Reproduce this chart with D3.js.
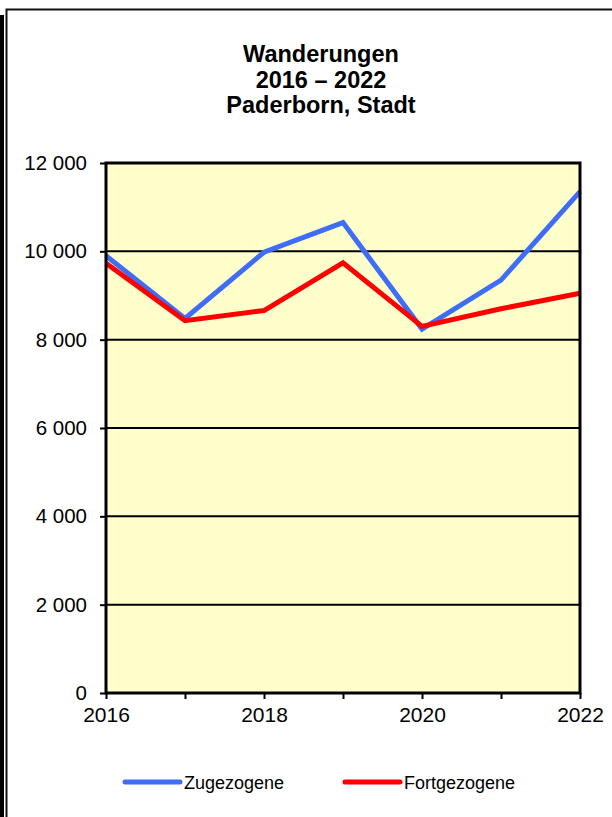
<!DOCTYPE html>
<html>
<head>
<meta charset="utf-8">
<script src="https://cdn.jsdelivr.net/npm/d3@7"></script>
<style>
  html, body { margin: 0; padding: 0; background: #fff; }
  svg { display: block; font-family: "Liberation Sans", Arial, sans-serif; }
</style>
</head>
<body>
<div id="chart"></div>
<script>
// data
var years = [2016, 2017, 2018, 2019, 2020, 2021, 2022];
var zugezogene = [9900, 8480, 9980, 10650, 8240, 9350, 11350];
var fortgezogene = [9730, 8430, 8660, 9740, 8300, 8700, 9050];
var yTicks = [0, 2000, 4000, 6000, 8000, 10000, 12000];
var xLabels = [2016, 2018, 2020, 2022];
var titleLines = ["Wanderungen", "2016 – 2022", "Paderborn, Stadt"];
var seriesNames = ["Zugezogene", "Fortgezogene"];
var seriesColors = ["#3f6df5", "#ff0000"];

var W = 612, H = 817;
var plot = { left: 106, top: 163, right: 580, bottom: 693 };

var svg = d3.select("#chart").append("svg")
    .attr("width", W)
    .attr("height", H);

// page frame on the left / top
svg.append("rect").attr("x", 0).attr("y", 15).attr("width", 4).attr("height", H - 15).attr("fill", "#000");
svg.append("path")
   .attr("d", "M6.5," + H + "V9.5H" + W)
   .attr("fill", "none").attr("stroke", "#111").attr("stroke-width", 2);

// title
svg.append("g").selectAll("text")
   .data(titleLines)
   .enter().append("text")
   .attr("x", 321)
   .attr("y", function(d, i) { return 62 + i * 25.5; })
   .attr("text-anchor", "middle")
   .attr("font-size", "23.5px")
   .attr("font-weight", "bold")
   .text(function(d) { return d; });

// scales
var x = d3.scaleLinear().domain([2016, 2022]).range([plot.left, plot.right]);
var y = d3.scaleLinear().domain([0, 12000]).range([plot.bottom, plot.top]);

// plot background
svg.append("rect")
   .attr("x", plot.left).attr("y", plot.top)
   .attr("width", plot.right - plot.left).attr("height", plot.bottom - plot.top)
   .attr("fill", "#ffffcc");

// gridlines
svg.append("g").selectAll("line")
   .data(yTicks.filter(function(d) { return d > 0 && d < 12000; }))
   .enter().append("line")
   .attr("x1", plot.left).attr("x2", plot.right)
   .attr("y1", function(d) { return y(d); }).attr("y2", function(d) { return y(d); })
   .attr("stroke", "#000").attr("stroke-width", 2);

// lines
var line = d3.line()
    .x(function(d, i) { return x(years[i]); })
    .y(function(d) { return y(d); });

[zugezogene, fortgezogene].forEach(function(s, k) {
    svg.append("path")
       .datum(s)
       .attr("d", line)
       .attr("fill", "none")
       .attr("stroke", seriesColors[k])
       .attr("stroke-width", 5)
       .attr("stroke-linejoin", "miter");
});

// plot border
svg.append("rect")
   .attr("x", plot.left).attr("y", plot.top)
   .attr("width", plot.right - plot.left).attr("height", plot.bottom - plot.top)
   .attr("fill", "none").attr("stroke", "#000").attr("stroke-width", 3);

// y axis
var yAxis = d3.axisLeft(y)
    .tickValues(yTicks)
    .tickSize(6)
    .tickPadding(13)
    .tickFormat(function(d) { return d3.format(",")(d).replace(/,/g, " "); });
var gy = svg.append("g").attr("transform", "translate(" + plot.left + ",0)").call(yAxis);
gy.select(".domain").remove();
gy.selectAll(".tick line").attr("stroke", "#000").attr("stroke-width", 2);
gy.selectAll(".tick text").attr("font-size", "20.5px").attr("font-family", "Liberation Sans, Arial, sans-serif").attr("fill", "#000");

// x axis
var xAxis = d3.axisBottom(x)
    .tickValues(years)
    .tickSize(6)
    .tickPadding(8)
    .tickFormat(function(d) { return xLabels.indexOf(d) >= 0 ? String(d) : ""; });
var gx = svg.append("g").attr("transform", "translate(0," + plot.bottom + ")").call(xAxis);
gx.select(".domain").remove();
gx.selectAll(".tick line").attr("stroke", "#000").attr("stroke-width", 2);
gx.selectAll(".tick text").attr("font-size", "21px").attr("font-family", "Liberation Sans, Arial, sans-serif").attr("fill", "#000");

// legend
var legendX = [125, 345];
var lg = svg.append("g").selectAll("g")
   .data(seriesNames)
   .enter().append("g")
   .attr("transform", function(d, i) { return "translate(" + legendX[i] + ",782)"; });
lg.append("line")
  .attr("x1", 0).attr("x2", 55)
  .attr("stroke", function(d, i) { return seriesColors[i]; })
  .attr("stroke-width", 5)
  .attr("stroke-linecap", "round");
lg.append("text")
  .attr("x", 59).attr("y", 6.5)
  .attr("font-size", "18px")
  .text(function(d) { return d; });
</script>
</body>
</html>
